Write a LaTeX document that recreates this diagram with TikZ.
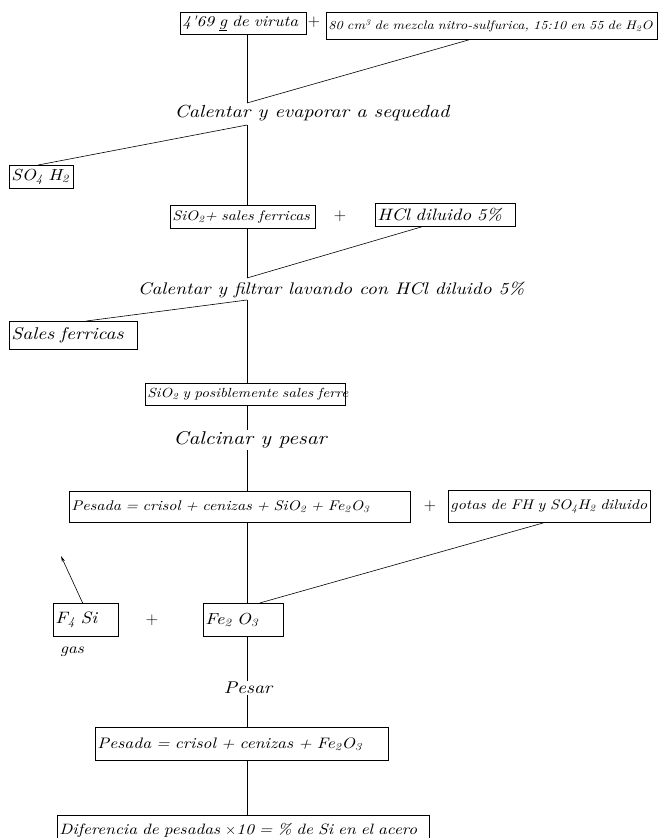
\documentclass[tikz,border=0pt]{standalone}
\usepackage{fontspec}
\usetikzlibrary{arrows.meta,calc}
% handwritten-looking lettering: slightly widened italic
\newfontfamily\handfont{lmroman10-italic.otf}[FakeStretch=1.15]
\newcommand\hsz[1]{\handfont\fontsize{#1}{#1}\selectfont}
\newcommand\sub[1]{\textsubscript{#1}}

\begin{document}
\begin{tikzpicture}[x=1pt,y=-1pt,
  box/.style={draw, line width=0.9pt, anchor=north west, inner xsep=2pt,
              inner ysep=0pt, align=left},
  link/.style={line width=0.6pt},
  steptext/.style={inner sep=1pt},
  plus/.style={inner sep=0pt, font=\fontsize{17}{17}\selectfont}]
\useasboundingbox (0,0) rectangle (658,838);
\clip (0,0) rectangle (658,838);

% junctions on the main vertical line
\coordinate (j1) at (247,103);
\coordinate (j2) at (247,125);
\coordinate (j3) at (247,278);
\coordinate (j4) at (247,300);
\coordinate (gasout) at (61,556);

% reagents and products (box text kept on one line)
\node[box, text width=122pt, minimum height=22pt, font=\hsz{15}] (A) at (180,12)
  {\mbox{4'69 \underline{g} de viruta}};
\node[plus] (p1) at (314,22) {+};
\node[box, text width=327pt, minimum height=27pt, font=\hsz{12.3}] (B) at (326,12)
  {\mbox{80 cm\textsuperscript{3} de mezcla nitro-sulfurica, 15:10 en 55 de H\sub{2}O}};

\node[steptext, font=\hsz{17.5}] (s1) at (312,113) {Calentar y evaporar a sequedad};

\node[box, text width=60pt, minimum height=23pt, font=\hsz{16}] (SO) at (9,165)
  {\mbox{SO\sub{4} H\sub{2}}};

\node[box, text width=141pt, minimum height=23pt, font=\hsz{13.8}] (C) at (170,205)
  {\mbox{SiO\sub{2}+ sales ferricas}};
\node[plus] (p2) at (340,216) {+};
\node[box, text width=136pt, minimum height=23pt, font=\hsz{16.5}] (HCl) at (375,203)
  {\mbox{HCl diluido 5\%}};

\node[steptext, font=\hsz{16.8}] (s2) at (331,290)
  {Calentar y filtrar lavando con HCl diluido 5\%};

\node[box, text width=124pt, minimum height=28pt, font=\hsz{17}] (SF) at (9,321)
  {\mbox{Sales ferricas}};

\node[box, text width=196pt, minimum height=22pt, font=\hsz{13.2}] (D) at (145,383)
  {\mbox{SiO\sub{2} y posiblemente sales ferre}};

\node[steptext, font=\hsz{18.5}] (s3) at (250,440) {Calcinar y pesar};

\node[box, text width=337pt, minimum height=31pt, font=\hsz{14}] (E) at (69,491)
  {\mbox{Pesada = crisol + cenizas + SiO\sub{2} + Fe\sub{2}O\sub{3}}};
\node[plus] (p3) at (430,506) {+};
\node[box, text width=198pt, minimum height=32pt, font=\hsz{13.9}] (F) at (448,490)
  {\mbox{gotas de FH y SO\sub{4}H\sub{2} diluido}};

\node[box, text width=61pt, minimum height=33pt, font=\hsz{16.5}] (G) at (53,603)
  {\mbox{F\sub{4} Si}};
\node[plus] (p4) at (152,620) {+};
\node[box, text width=76pt, minimum height=33pt, font=\hsz{16}] (H) at (203,603)
  {\mbox{Fe\sub{2} O\sub{3}}};
\node[steptext, font=\hsz{15}] (gas) at (72,652) {gas};

\node[steptext, font=\hsz{17}] (s4) at (248,688) {Pesar};

\node[box, text width=289pt, minimum height=33pt, font=\hsz{15.2}] (I) at (95,727)
  {\mbox{Pesada = crisol + cenizas + Fe\sub{2}O\sub{3}}};

\node[box, text width=368pt, minimum height=30pt, font=\hsz{15}] (J) at (57,815)
  {\mbox{Diferencia de pesadas $\times$10 = \% de Si en el acero}};

% connectors
\draw[link] (A.south -| j1) -- (j1);
\draw[link] ($(B.south west)!0.43!(B.south east)$) -- (j1);
\draw[link] (j2) -- (C.north -| j2);
\draw[link] (j2) -- ($(SO.north west)!0.45!(SO.north east)$);
\draw[link] (C.south -| j3) -- (j3);
\draw[link] ($(HCl.south west)!0.33!(HCl.south east)$) -- (j3);
\draw[link] (j4) -- ($(SF.north west)!0.6!(SF.north east)$);
\draw[link] (j4) -- (D.north -| j4);
\draw[link] (D.south -| j4) -- (s3.north -| j4);
\draw[link] (s3.south -| j4) -- (E.north -| j4);
\draw[link] (E.south -| j4) -- (H.north -| j4);
\draw[link] ($(F.south west)!0.47!(F.south east)$) -- ($(H.north west)!0.7!(H.north east)$);
\draw[link, -{Stealth[length=6pt,width=3pt]}] ($(G.north west)!0.45!(G.north east)$) -- (gasout);
\draw[link] (H.south -| j4) -- (s4.north -| j4);
\draw[link] (s4.south -| j4) -- (I.north -| j4);
\draw[link] (I.south -| j4) -- (J.north -| j4);
\end{tikzpicture}
\end{document}
